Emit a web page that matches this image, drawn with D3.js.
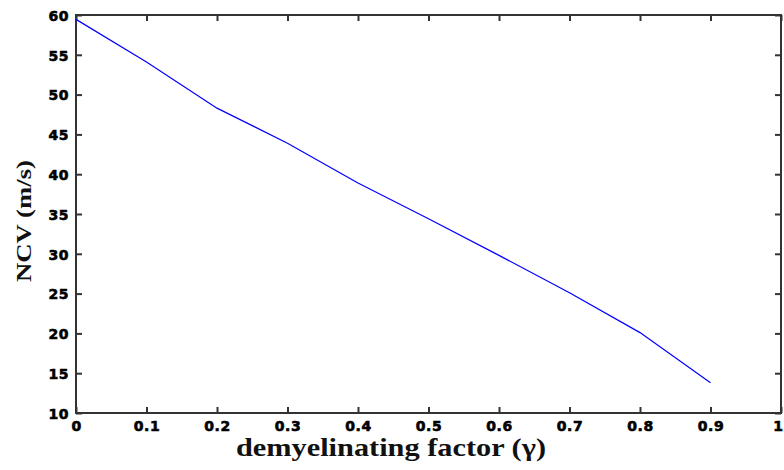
<!DOCTYPE html>
<html><head><meta charset="utf-8">
<script src="https://cdn.jsdelivr.net/npm/d3@7/dist/d3.min.js"></script>
<style>body{margin:0;background:#fff}svg{display:block}</style>
</head><body>
<svg id="chart" width="784" height="470"></svg>
<script>
const gammaValues = [0, 0.1, 0.2, 0.3, 0.4, 0.5, 0.6, 0.7, 0.8, 0.9];
const ncvValues = [59.45, 54.1, 48.3, 43.9, 38.9, 34.4, 29.8, 25.1, 20.1, 13.8];
const xTicks = [0, 0.1, 0.2, 0.3, 0.4, 0.5, 0.6, 0.7, 0.8, 0.9, 1];
const xTickLabels = ["0", "0.1", "0.2", "0.3", "0.4", "0.5", "0.6", "0.7", "0.8", "0.9", "1"];
const yTicks = [10, 15, 20, 25, 30, 35, 40, 45, 50, 55, 60];
const xTitle = "demyelinating factor (γ)";
const yTitle = "NCV (m/s)";

const svg = d3.select("#chart");
const L = 76, R = 781, T = 15, B = 413;
const x = d3.scaleLinear().domain([0, 1]).range([L, R]);
const y = d3.scaleLinear().domain([10, 60]).range([B, T]);
const frame = "#333";

const gx = svg.append("g").attr("transform", `translate(0,${B})`)
  .call(d3.axisBottom(x).tickValues(xTicks).tickFormat((d, i) => xTickLabels[i]).tickSizeInner(-6).tickSizeOuter(0).tickPadding(8));
const gxt = svg.append("g").attr("transform", `translate(0,${T})`)
  .call(d3.axisTop(x).tickValues(xTicks).tickFormat("").tickSizeInner(-6).tickSizeOuter(0));
const gy = svg.append("g").attr("transform", `translate(${L},0)`)
  .call(d3.axisLeft(y).tickValues(yTicks).tickSizeInner(-6).tickSizeOuter(0).tickPadding(7));
const gyr = svg.append("g").attr("transform", `translate(${R},0)`)
  .call(d3.axisRight(y).tickValues(yTicks).tickFormat("").tickSizeInner(-6).tickSizeOuter(0));
[gx, gxt, gy, gyr].forEach(g => {
  g.select(".domain").remove();
  g.selectAll(".tick line").attr("stroke", frame).attr("stroke-width", 2);
  g.selectAll(".tick text")
    .style("font-family", "'DejaVu Sans', sans-serif").style("font-weight", "bold")
    .style("font-size", "14px").style("letter-spacing", "0.5px")
    .attr("fill", "#000").attr("stroke", "#000").attr("stroke-width", 0.6);
});
gy.selectAll(".tick text").attr("dy", "0.38em");
gx.selectAll(".tick text").attr("dy", "0.7em");
// last x label sits at the page edge: keep it fully inside
gx.selectAll(".tick").filter(d => d === 1).select("text")
  .attr("text-anchor", "end").attr("x", 784 - R - 1);

svg.append("rect").attr("x", L).attr("y", T).attr("width", R - L).attr("height", B - T)
  .attr("fill", "none").attr("stroke", frame).attr("stroke-width", 2);

svg.append("path").datum(gammaValues.map((g, i) => [g, ncvValues[i]]))
  .attr("fill", "none").attr("stroke", "#0000ff").attr("stroke-width", 1.2)
  .attr("d", d3.line().x(d => x(d[0])).y(d => y(d[1])));

svg.append("text").attr("x", 236).attr("y", 456)
  .attr("textLength", 310).attr("lengthAdjust", "spacingAndGlyphs")
  .style("font", "bold 26px 'Liberation Serif', 'Times New Roman', serif").attr("fill", "#111")
  .text(xTitle);
svg.append("text").attr("transform", "translate(31,282) rotate(-90)")
  .attr("textLength", 122).attr("lengthAdjust", "spacingAndGlyphs")
  .style("font", "bold 22px 'Liberation Serif', 'Times New Roman', serif").attr("fill", "#111")
  .text(yTitle);
</script>
</body></html>
